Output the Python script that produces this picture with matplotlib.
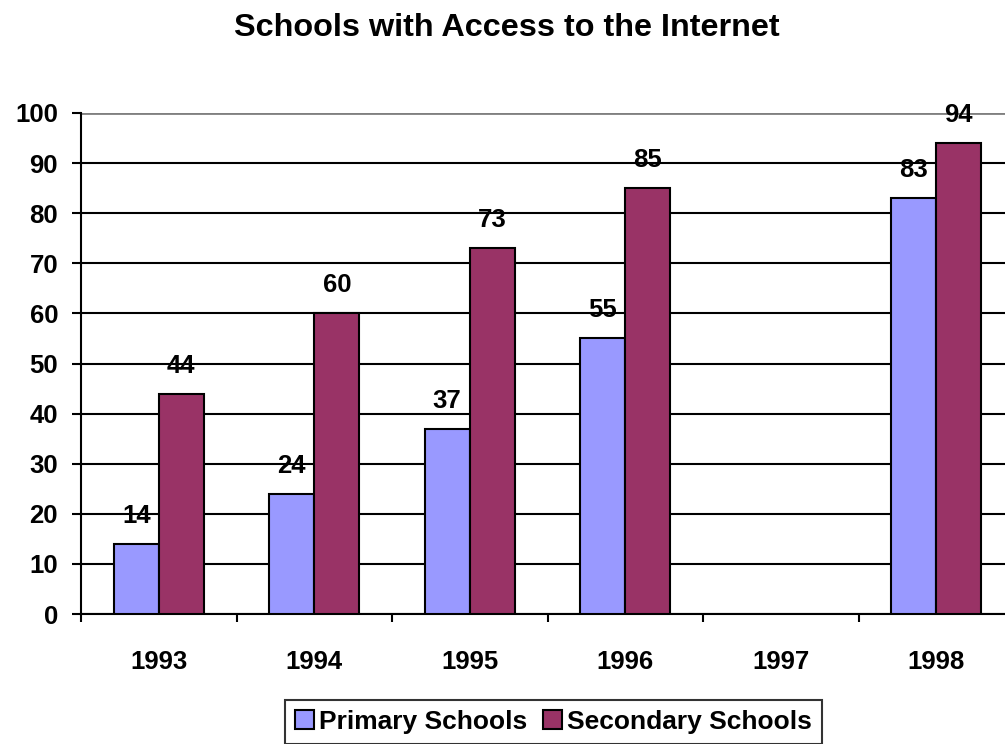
import matplotlib.pyplot as plt
import numpy as np

years = ["1993", "1994", "1995", "1996", "1997", "1998"]
primary = [14, 24, 37, 55, np.nan, 83]
secondary = [44, 60, 73, 85, np.nan, 94]

plt.rcParams['font.family'] = ['Liberation Sans', 'DejaVu Sans']
plt.rcParams['font.weight'] = 'bold'

fig = plt.figure(figsize=(10.05, 7.44), dpi=100)
W, H = 1005, 744
ax = fig.add_axes([81 / W, (H - 614) / H, (1014 - 81) / W, (614 - 113) / H])

x = np.arange(len(years)) + 0.5
bw = 0.29
ax.bar(x - bw / 2, primary, bw, color="#9999FF", edgecolor="black", linewidth=1.5,
       label="Primary Schools", zorder=3)
ax.bar(x + bw / 2, secondary, bw, color="#993366", edgecolor="black", linewidth=1.5,
       label="Secondary Schools", zorder=3)

for xi, p, s in zip(x, primary, secondary):
    if not np.isnan(p):
        ax.text(xi - bw / 2, p + 5.6, str(p), ha="center", va="center",
                fontsize=18.5, fontweight="bold", zorder=4)
    if not np.isnan(s):
        ax.text(xi + bw / 2, s + 5.6, str(s), ha="center", va="center",
                fontsize=18.5, fontweight="bold", zorder=4)

ax.set_xlim(0, 6)
ax.set_ylim(0, 100)
ax.set_yticks(range(0, 101, 10))
ax.tick_params(axis="y", labelsize=18.5, length=6.5, width=1.5, pad=10)
ax.set_xticks(range(0, 7))
ax.set_xticklabels([])
ax.tick_params(axis="x", which="major", length=6, width=1.5)
ax.set_xticks(x, minor=True)
ax.set_xticklabels(years, minor=True)
ax.tick_params(axis="x", which="minor", length=0, labelsize=18.5, pad=26)
for lab in ax.get_xticklabels(minor=True) + ax.get_yticklabels():
    lab.set_fontweight("bold")

ax.grid(axis="y", color="black", linewidth=1.5, zorder=1)
ax.set_axisbelow(True)
for sp in ["right", "top"]:
    ax.spines[sp].set_visible(False)
ax.axhline(100, color="#808080", linewidth=2, zorder=2)
ax.spines["left"].set_linewidth(1.5)
ax.spines["bottom"].set_linewidth(1.5)

fig.text(507 / W, 1 - 28 / H, "Schools with Access to the Internet",
         ha="center", va="center", fontsize=23.3, fontweight="bold")

leg = fig.legend(loc="upper center", bbox_to_anchor=(553.5 / W, 1 - 700 / H), ncol=2,
                 fontsize=19, frameon=True, fancybox=False, edgecolor="black",
                 handlelength=0.72, handleheight=0.72, handletextpad=0.19,
                 columnspacing=0.57, borderpad=0.38, borderaxespad=0)
leg.get_frame().set_linewidth(1.5)
for t in leg.get_texts():
    t.set_fontweight("bold")

fig.savefig("out.png", dpi=100)
